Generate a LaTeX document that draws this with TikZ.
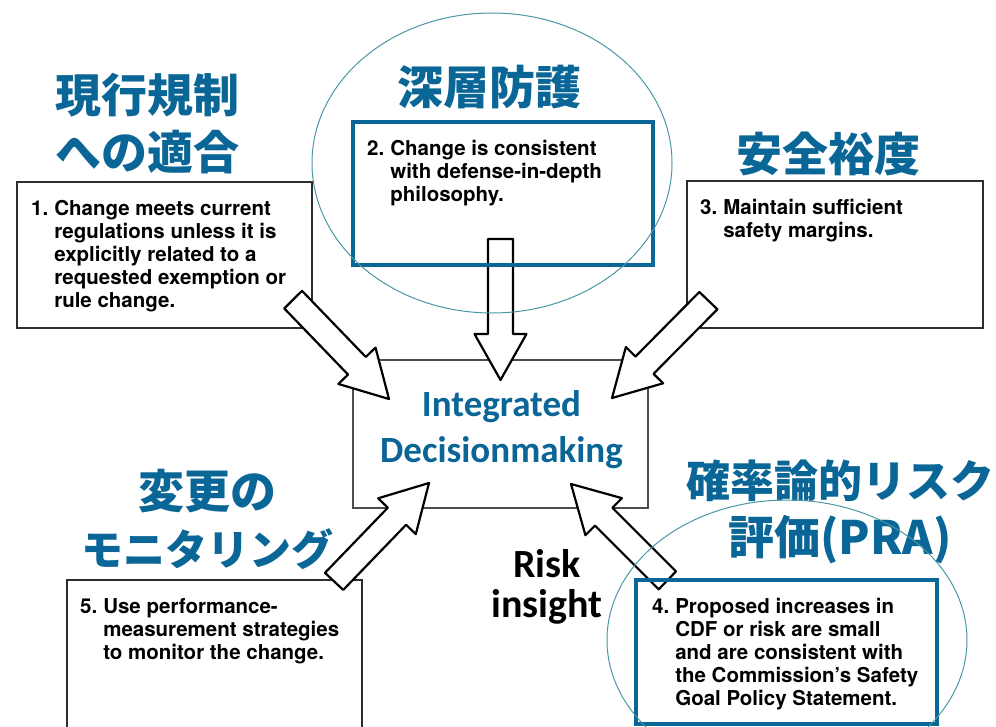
\documentclass[tikz,border=0pt]{standalone}
\usepackage{fontspec}
\setmainfont{TeX Gyre Heros}
\newfontfamily\jpfont{Noto Sans CJK JP}
\newfontfamily\calfont{Carlito}
\usetikzlibrary{calc}

\definecolor{titleblue}{RGB}{10,102,150}
\definecolor{ringteal}{RGB}{75,152,165}
\definecolor{edgegray}{RGB}{45,45,45}

% block arrow from a tail coordinate to a tip coordinate
\newcommand\blockarrow[2]{%
  \draw[fatarrow] let \p1=(#1), \p2=(#2),
    \n1={atan2(\y2-\y1,\x2-\x1)}, \n2={veclen(\x2-\x1,\y2-\y1)-46pt} in
    ($(\p1)+(\n1+90:12.5pt)$) -- ++(\n1:\n2) -- ++(\n1+90:13.5pt) -- (\p2)
    -- ($(\p2)+(\n1+180:46pt)+(\n1-90:26pt)$) -- ++(\n1+90:13.5pt)
    -- ++(\n1+180:\n2) -- cycle;}

\begin{document}
\begin{tikzpicture}[x=1pt,y=-1pt,
  graybox/.style={draw=edgegray, line width=2pt, fill=white, anchor=north west, inner sep=0pt, outer sep=0pt},
  bluebox/.style={fill=white, anchor=north west, inner sep=0pt, outer sep=0pt},
  blueline/.style={draw=titleblue, line width=4.5pt},
  boxtext/.style={anchor=north west, inner sep=0pt, font=\bfseries\fontsize{20.5}{23}\selectfont},
  jptitle/.style={font=\jpfont\bfseries\fontsize{46}{57}\selectfont, text=titleblue, align=center, inner sep=0pt},
  fatarrow/.style={draw=black, line width=2.2pt, fill=white, line join=round},
  ring/.style={draw=ringteal, line width=1pt}]
\useasboundingbox (0,0) rectangle (996,726);

% The five boxes and the middle one
\node[graybox, minimum width=295pt, minimum height=146pt] (rule1) at (17,182) {};
\node[bluebox, minimum width=300pt, minimum height=143pt] (rule2) at (353,122) {};
\node[graybox, minimum width=296pt, minimum height=147pt] (rule3) at (687,181) {};
\node[bluebox, minimum width=301pt, minimum height=144pt] (rule4) at (636,580) {};
\node[graybox, minimum width=295pt, minimum height=160pt] (rule5) at (67,580) {};
\node[graybox, draw=edgegray!85, minimum width=295pt, minimum height=148pt] (decide) at (353,360) {};
\node[align=center, inner sep=0pt, font=\calfont\bfseries\fontsize{37}{46}\selectfont, text=titleblue]
  (decidetext) at ($(decide.center)+(1,-4)$) {Integrated\\Decisionmaking};

% Text inside the boxes
\node[boxtext] (txt1) at ($(rule1.north west)+(14,17)$) {\begin{tabular}{@{}l@{\hspace{6pt}}l@{}}
1.&Change meets current\\
  &regulations unless it is\\
  &explicitly related to a\\
  &requested exemption or\\
  &rule change.\end{tabular}};
\node[boxtext] (txt2) at ($(rule2.north west)+(14,17)$) {\begin{tabular}{@{}l@{\hspace{6pt}}l@{}}
2.&Change is consistent\\
  &with defense-in-depth\\
  &philosophy.\end{tabular}};
\node[boxtext] (txt3) at ($(rule3.north west)+(13,17)$) {\begin{tabular}{@{}l@{\hspace{6pt}}l@{}}
3.&Maintain sufficient\\
  &safety margins.\end{tabular}};
\node[boxtext] (txt4) at ($(rule4.north west)+(16,17)$) {\begin{tabular}{@{}l@{\hspace{6pt}}l@{}}
4.&Proposed increases in\\
  &CDF or risk are small\\
  &and are consistent with\\
  &the Commission’s Safety\\
  &Goal Policy Statement.\end{tabular}};
\node[boxtext] (txt5) at ($(rule5.north west)+(13,17)$) {\begin{tabular}{@{}l@{\hspace{6pt}}l@{}}
5.&Use performance-\\
  &measurement strategies\\
  &to monitor the change.\end{tabular}};

% Japanese headings
\node[jptitle] (ttl1) at (147,124) {現行規制\\への適合};
\node[jptitle] (ttl2) at (489,87) {深層防護};
\node[jptitle] (ttl3) at (828,154) {安全裕度};
\node[jptitle] (ttl4) at (840,512) {{\fontsize{44}{57}\selectfont 確率論的リスク}\\評価(PRA)};
\node[jptitle] (ttl5) at (207,519) {変更の\\{\fontsize{42}{57}\selectfont モニタリング}};
\node[font=\calfont\bfseries\fontsize{40}{40}\selectfont, align=center, inner sep=0pt] (insight) at (547,587) {Risk\\insight};

% Arrows into the middle box
\coordinate (tail1) at (293,299.5);  \coordinate (tip1) at (389,399);
\coordinate (tail2) at (500.5,239);  \coordinate (tip2) at (500.5,380);
\coordinate (tail3) at (708.5,300.5); \coordinate (tip3) at (612,398);
\coordinate (tail4) at (667.5,580.5); \coordinate (tip4) at (571,484);
\coordinate (tail5) at (334,581.5);  \coordinate (tip5) at (429,483);
\blockarrow{tail1}{tip1}
\blockarrow{tail2}{tip2}
\blockarrow{tail3}{tip3}
\blockarrow{tail4}{tip4}
\blockarrow{tail5}{tip5}

% Blue frames and rings on top
\draw[blueline] (rule2.north west) rectangle (rule2.south east);
\draw[blueline] (rule4.north west) rectangle (rule4.south east);
\draw[ring] (492,163) ellipse [x radius=180pt, y radius=150pt];
\draw[ring] (787,640) ellipse [x radius=180pt, y radius=140pt];
\end{tikzpicture}
\end{document}
